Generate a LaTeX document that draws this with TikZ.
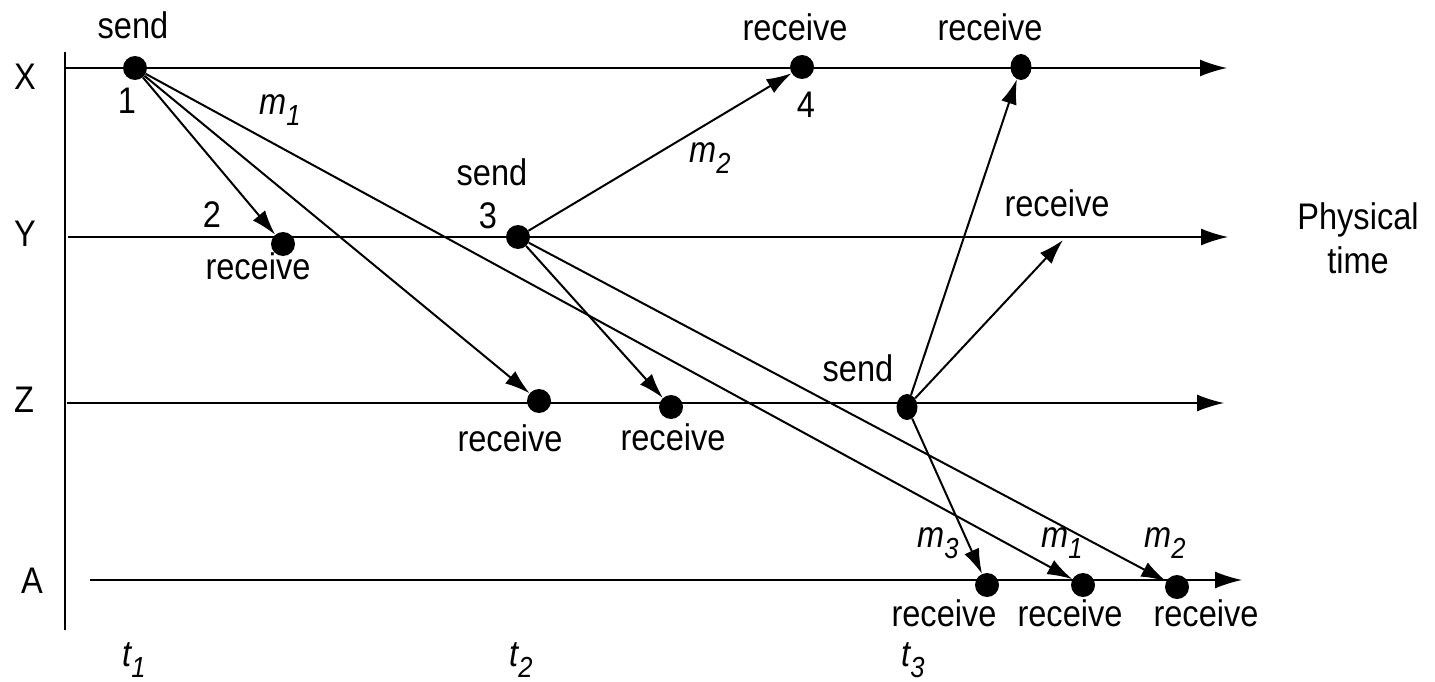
\documentclass[tikz,border=0pt]{standalone}
\usepackage{fontspec}
\setmainfont{Liberation Sans}[FakeStretch=0.88]
\usetikzlibrary{arrows.meta,shapes.geometric}
\newcommand\lbl[2]{{\itshape #1\raisebox{-0.3em}{\fontsize{29}{29}\selectfont #2}}}
\begin{document}
\begin{tikzpicture}[x=1pt,y=-1pt,
  every node/.style={font=\fontsize{37}{44}\selectfont, inner sep=0pt},
  dot/.style={circle, fill=black, minimum size=24pt, inner sep=0pt},
  edot/.style={ellipse, fill=black, minimum width=21pt, minimum height=26pt, inner sep=0pt},
  axis/.style={line width=1.4pt, -{Latex[length=27pt,width=17pt]}},
  vaxis/.style={line width=1.4pt},
  msg/.style={line width=2pt, -{Latex[length=25pt,width=16pt]}}]
\useasboundingbox (0,0) rectangle (1435,682);

% process lines
\coordinate (xs) at (66,68);   \coordinate (xe) at (1227,68);
\coordinate (ys) at (68,237);  \coordinate (ye) at (1228,237);
\coordinate (zs) at (67,403);  \coordinate (ze) at (1224,403);
\coordinate (as) at (90,580);  \coordinate (ae) at (1242,580);
\coordinate (vt) at (65,52);   \coordinate (vb) at (65,630);
\draw[vaxis] (vt) -- (vb);
\draw[axis] (xs) -- (xe);
\draw[axis] (ys) -- (ye);
\draw[axis] (zs) -- (ze);
\draw[axis] (as) -- (ae);

% process labels
\node (lX) at (25,77) {X};
\node (lY) at (25,234) {Y};
\node (lZ) at (24,400) {Z};
\node (lA) at (32,581) {A};
\node (lP) at (1358,238) [align=center] {Physical\\time};

% events
\node[dot] (d1) at (135,68) {};
\node[dot] (d2) at (283,244) {};
\node[dot] (d3) at (518,237) {};
\node[dot] (d4) at (802,67) {};
\node[edot] (d5) at (1021,67) {};
\node[dot] (z1) at (539,401) {};
\node[dot] (z2) at (671,407) {};
\node[edot] (zs3) at (907,407) {};
\node[dot] (a1) at (987,585) {};
\node[dot] (a2) at (1083,585) {};
\node[dot] (a3) at (1177,587) {};
\coordinate (yr) at (1063,240);

% event labels
\node (t-send1) at (133,25) {send};
\node (t-1) at (127,101) {1};
\node (t-2) at (212,215) {2};
\node (t-rec2) at (258,266) {receive};
\node (t-send3) at (492,172) {send};
\node (t-3) at (488,216) {3};
\node (t-rec4) at (795,27) {receive};
\node (t-4) at (806,105) {4};
\node (t-rec5) at (990,27) {receive};
\node (t-recY) at (1057,203) {receive};
\node (t-recz1) at (510,438) {receive};
\node (t-recz2) at (673,437) {receive};
\node (t-sendz) at (858,368) {send};
\node (t-reca1) at (944,613) {receive};
\node (t-reca2) at (1070,613) {receive};
\node (t-reca3) at (1206,613) {receive};

% message labels
\node (m1a) at (280,110) {\lbl{m}{1}};
\node (m2a) at (710,158) {\lbl{m}{2}};
\node (m3) at (938,543) {\lbl{m}{3}};
\node (m1b) at (1062,543) {\lbl{m}{1}};
\node (m2b) at (1165,543) {\lbl{m}{2}};

% time labels
\node (t1) at (134,660) {\lbl{t}{1}};
\node (t2) at (521,660) {\lbl{t}{2}};
\node (t3) at (913,660) {\lbl{t}{3}};

% messages
\draw[msg] (d1) -- (d2);
\draw[msg] (d1) -- (z1);
\draw[msg] (d1) -- (a2);
\draw[msg] (d3) -- (d4);
\draw[msg] (d3) -- (z2);
\draw[msg] (d3) -- (a3);
\draw[msg] (zs3) -- (d5);
\draw[msg] (zs3) -- (yr);
\draw[msg] (zs3) -- (a1);
\end{tikzpicture}
\end{document}
